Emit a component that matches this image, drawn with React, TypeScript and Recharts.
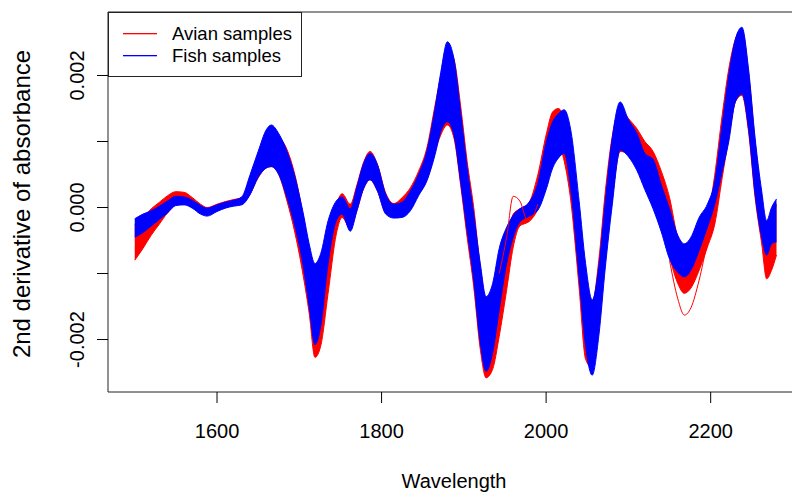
import React from "react";
import { ComposedChart, Area, Line, XAxis, YAxis, ReferenceArea } from "recharts";

// wavelength grid (nm), denser around peaks and troughs
const wavelengths = [
  1500, 1510, 1520, 1530, 1540, 1550, 1560, 1570, 1580, 1588,
  1600, 1610, 1620, 1630, 1640, 1650, 1660, 1666, 1675, 1685,
  1695, 1705, 1712, 1719, 1726, 1735, 1745, 1752, 1762, 1770,
  1778, 1786, 1795, 1805, 1815, 1825, 1835, 1845, 1855, 1865,
  1872, 1880, 1888, 1896, 1904, 1912, 1920, 1927, 1935, 1943,
  1952, 1960, 1968, 1978, 1990, 2000, 2008, 2015, 2022, 2030,
  2040, 2048, 2056, 2064, 2072, 2080, 2090, 2100, 2110, 2120,
  2130, 2140, 2150, 2160, 2168, 2176, 2186, 2196, 2205, 2214,
  2222, 2230, 2238, 2246, 2254, 2262, 2268, 2274, 2280,
];

// values in units of 1e-3 (2nd derivative)
const fishLow = [
  -0.45, -0.38, -0.28, -0.18, -0.08, 0.03, 0.04, -0.01, -0.1, -0.13,
  -0.06, -0.01, 0.02, 0.04, 0.19, 0.46, 0.6, 0.62, 0.5, 0.15,
  -0.3, -0.9, -1.5, -2.08, -1.8, -0.85, -0.2, -0.1, -0.36, -0.05,
  0.28, 0.42, 0.25, -0.1, -0.16, -0.15, -0.05, 0.18, 0.4, 0.8,
  1.15, 1.3, 1.1, 0.4, -0.35, -1.1, -2.05, -2.48, -2.2, -1.55,
  -0.85, -0.45, -0.22, -0.14, -0.04, 0.27, 0.6, 0.75, 0.82, 0.27,
  -1.05, -2.1, -2.54, -1.95, -0.9, 0.0, 0.87, 0.77, 0.57, 0.27,
  -0.02, -0.37, -0.78, -0.98, -1.05, -0.95, -0.65, -0.3, 0.05, 0.55,
  1.0, 1.6, 1.72, 1.2, 0.2, -0.45, -0.72, -0.55, -0.52,
];
const fishHigh = [
  -0.17, -0.1, -0.05, 0.02, 0.1, 0.17, 0.16, 0.11, 0.03, -0.01,
  0.04, 0.08, 0.11, 0.16, 0.49, 0.85, 1.18, 1.25, 1.12, 0.85,
  0.45, -0.1, -0.55, -0.85, -0.7, -0.2, 0.1, 0.16, -0.02, 0.31,
  0.66, 0.82, 0.65, 0.2, 0.05, 0.08, 0.25, 0.5, 0.85, 1.5,
  2.05, 2.51, 2.25, 1.45, 0.6, -0.1, -0.85, -1.35, -1.15, -0.62,
  -0.3, -0.12, -0.02, 0.06, 0.37, 0.98, 1.3, 1.42, 1.48, 1.17,
  0.11, -0.85, -1.4, -0.9, 0.1, 1.02, 1.6, 1.33, 1.13, 0.82,
  0.73, 0.34, -0.02, -0.42, -0.55, -0.45, -0.15, 0.05, 0.4, 1.25,
  2.0, 2.55, 2.73, 2.1, 1.05, 0.25, -0.2, 0.0, 0.13,
];
const avianLow = [
  -0.8, -0.62, -0.42, -0.25, -0.08, 0.04, 0.05, 0.0, -0.07, -0.1,
  -0.05, 0.0, 0.03, 0.05, 0.2, 0.45, 0.6, 0.62, 0.5, 0.1,
  -0.4, -1.05, -1.6, -2.27, -2.1, -1.3, -0.4, -0.15, -0.32, -0.05,
  0.28, 0.42, 0.25, -0.08, -0.14, -0.12, 0.0, 0.2, 0.42, 0.85,
  1.1, 1.25, 1.05, 0.35, -0.45, -1.2, -2.15, -2.58, -2.45, -1.95,
  -1.25, -0.6, -0.28, -0.22, -0.02, 0.4, 0.8, 0.95, 0.7, 0.1,
  -1.2, -2.3, -2.43, -1.8, -0.75, 0.1, 0.85, 0.8, 0.65, 0.45,
  0.1, -0.25, -0.75, -1.15, -1.3, -1.22, -0.95, -0.6, -0.25, 0.45,
  1.05, 1.6, 1.7, 1.15, 0.15, -0.55, -1.08, -0.95, -0.72,
];
const avianHigh = [
  -0.25, -0.15, -0.02, 0.08, 0.18, 0.24, 0.23, 0.15, 0.05, 0.0,
  0.05, 0.09, 0.12, 0.15, 0.45, 0.8, 1.12, 1.18, 1.08, 0.88,
  0.48, -0.15, -0.65, -0.95, -0.85, -0.35, 0.05, 0.21, 0.05, 0.34,
  0.68, 0.85, 0.65, 0.22, 0.06, 0.15, 0.3, 0.55, 0.9, 1.55,
  2.0, 2.42, 2.25, 1.55, 0.7, 0.0, -0.9, -1.4, -1.3, -0.85,
  -0.45, -0.1, -0.02, 0.05, 0.5, 1.1, 1.45, 1.5, 1.35, 1.0,
  -0.1, -1.1, -1.45, -0.8, 0.25, 1.05, 1.5, 1.35, 1.2, 1.0,
  0.85, 0.55, 0.15, -0.45, -0.6, -0.55, -0.35, -0.15, 0.5, 1.4,
  2.1, 2.55, 2.7, 2.05, 1.0, 0.15, -0.3, -0.2, 0.05,
];

// avian spectra that leave the bundle
const outlierWl = [1943, 1952, 1960, 1968, 1978, 1990];
const outlierVals = [-1.0, -0.45, 0.17, 0.1, -0.22, 0.05];
const deepWl = [2150, 2160, 2168, 2176, 2186, 2196, 2205];
const deepVals = [-0.8, -1.38, -1.63, -1.52, -1.1, -0.55, -0.22];

const xTicks = [1600, 1800, 2000, 2200];
const yTicks = [-2, -1, 0, 1, 2];

const pick = (wl: number, xs: number[], vs: number[]) => {
  const k = xs.indexOf(wl);
  return k >= 0 ? vs[k] : null;
};

const data = wavelengths.map((wl, i) => ({
  wl,
  avian: [avianLow[i], avianHigh[i]],
  fish: [fishLow[i], fishHigh[i]],
  avianOut: pick(wl, outlierWl, outlierVals),
  avianDeep: pick(wl, deepWl, deepVals),
}));

const FONT = "'Liberation Sans', Arial, sans-serif";
const X_DOMAIN: [number, number] = [1467.5, 2311];
const Y_DOMAIN: [number, number] = [-2.795, 2.962];

const YTick = (props: any) => {
  const { x, y, payload } = props;
  if (payload.value % 2 !== 0) return <g />;
  const tx = x - 13;
  return (
    <text
      x={tx}
      y={y}
      transform={`rotate(-90 ${tx} ${y})`}
      textAnchor="middle"
      fontSize={20}
      fontFamily={FONT}
      fill="#000"
    >
      {(payload.value / 1000).toFixed(3)}
    </text>
  );
};

export default function App() {
  return (
    <div
      style={{
        position: "absolute",
        left: 0,
        top: 0,
        width: 792,
        height: 494,
        overflow: "hidden",
        background: "#fff",
      }}
    >
      <ComposedChart
        width={812}
        height={494}
        data={data}
        margin={{ top: 12, right: 10, left: 48, bottom: 72 }}
      >
        <XAxis
          type="number"
          dataKey="wl"
          domain={X_DOMAIN}
          ticks={xTicks}
          allowDataOverflow
          axisLine={false}
          tickSize={11}
          tickMargin={21}
          tickLine={{ stroke: "#000" }}
          tick={{ fontSize: 20, fill: "#000", fontFamily: FONT }}
          height={30}
        />
        <YAxis
          type="number"
          domain={Y_DOMAIN}
          ticks={yTicks}
          allowDataOverflow
          axisLine={false}
          tickSize={11}
          tickMargin={0}
          tickLine={{ stroke: "#000" }}
          tick={<YTick />}
          width={60}
        />
        <Area
          type="monotone"
          dataKey="avian"
          stroke="#ff0000"
          strokeWidth={1}
          fill="#ff0000"
          fillOpacity={1}
          isAnimationActive={false}
        />
        <Line
          type="monotone"
          dataKey="avianOut"
          stroke="#ff0000"
          strokeWidth={1}
          dot={false}
          connectNulls={false}
          isAnimationActive={false}
        />
        <Line
          type="monotone"
          dataKey="avianDeep"
          stroke="#ff0000"
          strokeWidth={1}
          dot={false}
          connectNulls={false}
          isAnimationActive={false}
        />
        <Area
          type="monotone"
          dataKey="fish"
          stroke="#0000ff"
          strokeWidth={1}
          fill="#0000ff"
          fillOpacity={1}
          isAnimationActive={false}
        />
        <ReferenceArea
          x1={X_DOMAIN[0]}
          x2={X_DOMAIN[1]}
          y1={Y_DOMAIN[0]}
          y2={Y_DOMAIN[1]}
          fill="none"
          stroke="#222"
          strokeWidth={1}
          ifOverflow="visible"
        />
      </ComposedChart>
      <svg
        width={792}
        height={494}
        style={{ position: "absolute", left: 0, top: 0, pointerEvents: "none" }}
        fontFamily={FONT}
      >
        <text x={454} y={488} textAnchor="middle" fontSize={20} fill="#000">
          Wavelength
        </text>
        <text
          x={30}
          y={204}
          transform="rotate(-90 30 204)"
          textAnchor="middle"
          fontSize={24}
          fill="#000"
        >
          2nd derivative of absorbance
        </text>
        <g>
          <rect x={108.5} y={12.5} width={193} height={64} fill="#fff" stroke="#222" />
          <rect x={123} y={33} width={34} height={1.3} fill="#ff0000" />
          <rect x={123} y={55} width={34} height={1.3} fill="#0000ff" />
          <text x={172} y={40} fontSize={18.5} fill="#000">
            Avian samples
          </text>
          <text x={172} y={62} fontSize={18.5} fill="#000">
            Fish samples
          </text>
        </g>
      </svg>
    </div>
  );
}
